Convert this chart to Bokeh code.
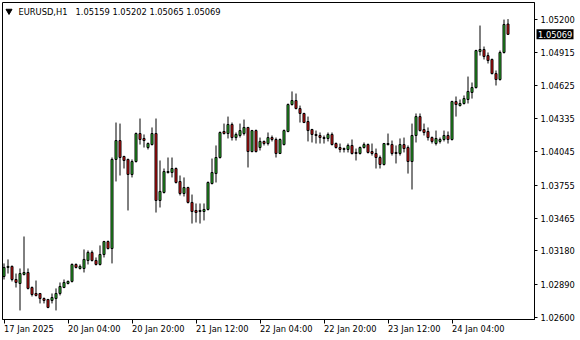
from bokeh.plotting import figure
from bokeh.models import (Range1d, FixedTicker, PrintfTickFormatter, LinearAxis,
                          Label, ColumnDataSource)
from bokeh.core.properties import value
from bokeh.embed import file_html
from bokeh.resources import INLINE

symbol = "EURUSD,H1"

opens = [1.02957, 1.03036, 1.03045, 1.02931, 1.02896, 1.02975, 1.02992, 1.02861, 1.02809, 1.02809,
         1.02765, 1.02757, 1.02748, 1.02765, 1.02809, 1.02861, 1.02896, 1.02914, 1.03062, 1.03027,
         1.03027, 1.03097, 1.03167, 1.03097, 1.03062, 1.03149, 1.03262, 1.03201, 1.03978, 1.04143,
         1.04004, 1.03978, 1.03847, 1.03960, 1.04204, 1.04161, 1.04082, 1.04108, 1.04204, 1.03620,
         1.03690, 1.03864, 1.03864, 1.03899, 1.03786, 1.03681, 1.03733, 1.03603, 1.03533, 1.03524,
         1.03524, 1.03542, 1.03768, 1.03855, 1.03995, 1.04222, 1.04204, 1.04283, 1.04169, 1.04187,
         1.04204, 1.04257, 1.04047, 1.04230, 1.04082, 1.04135, 1.04117, 1.04169, 1.04152, 1.04030,
         1.04108, 1.04222, 1.04457, 1.04492, 1.04422, 1.04379, 1.04309, 1.04239, 1.04196, 1.04187,
         1.04169, 1.04161, 1.04196, 1.04117, 1.04082, 1.04065, 1.04065, 1.04100, 1.04039, 1.04030,
         1.04082, 1.04108, 1.04047, 1.04030, 1.03995, 1.03934, 1.04108, 1.04108, 1.04039, 1.04030,
         1.04108, 1.04082, 1.03960, 1.04187, 1.04352, 1.04239, 1.04222, 1.04169, 1.04117, 1.04135,
         1.04152, 1.04187, 1.04152, 1.04483, 1.04448, 1.04466, 1.04501, 1.04562, 1.04605, 1.04919,
         1.04937, 1.04884, 1.04850, 1.04727, 1.04675, 1.04911, 1.05159]

highs = [1.03071, 1.03106, 1.03053, 1.02983, 1.03027, 1.03306, 1.03027, 1.02870, 1.02922, 1.02809,
         1.02774, 1.02757, 1.02809, 1.02853, 1.02905, 1.02931, 1.02922, 1.03071, 1.03071, 1.03062,
         1.03193, 1.03184, 1.03184, 1.03123, 1.03228, 1.03268, 1.03271, 1.03995, 1.04300, 1.04291,
         1.04010, 1.03985, 1.03978, 1.04213, 1.04335, 1.04196, 1.04126, 1.04257, 1.04335, 1.03969,
         1.03899, 1.03995, 1.03995, 1.03908, 1.03838, 1.03821, 1.03740, 1.03672, 1.03594, 1.03594,
         1.03594, 1.03786, 1.03986, 1.04100, 1.04222, 1.04291, 1.04352, 1.04300, 1.04213, 1.04291,
         1.04326, 1.04262, 1.04236, 1.04239, 1.04169, 1.04143, 1.04213, 1.04187, 1.04169, 1.04161,
         1.04239, 1.04466, 1.04571, 1.04553, 1.04448, 1.04385, 1.04352, 1.04245, 1.04230, 1.04213,
         1.04187, 1.04213, 1.04213, 1.04126, 1.04117, 1.04082, 1.04117, 1.04152, 1.04073, 1.04091,
         1.04126, 1.04117, 1.04117, 1.04073, 1.04012, 1.04122, 1.04204, 1.04143, 1.04100, 1.04161,
         1.04169, 1.04100, 1.04291, 1.04379, 1.04379, 1.04291, 1.04257, 1.04178, 1.04230, 1.04169,
         1.04230, 1.04222, 1.04490, 1.04527, 1.04501, 1.04536, 1.04701, 1.04649, 1.04935, 1.05146,
         1.04963, 1.04911, 1.04858, 1.04754, 1.04928, 1.05198, 1.05202]

lows = [1.02931, 1.02983, 1.02914, 1.02861, 1.02661, 1.02966, 1.02844, 1.02783, 1.02783, 1.02722,
        1.02722, 1.02680, 1.02722, 1.02661, 1.02792, 1.02855, 1.02888, 1.02905, 1.03027, 1.03018,
        1.02992, 1.03062, 1.03088, 1.03053, 1.03053, 1.03123, 1.03193, 1.03071, 1.03786, 1.03838,
        1.03899, 1.03533, 1.03821, 1.03951, 1.04108, 1.04082, 1.04065, 1.04100, 1.03515, 1.03559,
        1.03681, 1.03855, 1.03821, 1.03768, 1.03664, 1.03655, 1.03594, 1.03419, 1.03428, 1.03419,
        1.03446, 1.03533, 1.03760, 1.03777, 1.03986, 1.04196, 1.04161, 1.04143, 1.04143, 1.04169,
        1.04187, 1.03908, 1.04040, 1.04039, 1.04056, 1.04100, 1.04100, 1.04135, 1.03995, 1.04025,
        1.04100, 1.04215, 1.04448, 1.04415, 1.04300, 1.04295, 1.04135, 1.04126, 1.04117, 1.04117,
        1.04117, 1.04135, 1.04100, 1.04073, 1.04039, 1.04039, 1.04039, 1.04021, 1.03969, 1.04021,
        1.04073, 1.04030, 1.04012, 1.03899, 1.03899, 1.03925, 1.04100, 1.04012, 1.03943, 1.04012,
        1.04039, 1.03855, 1.03716, 1.04126, 1.04222, 1.04187, 1.04143, 1.04117, 1.04100, 1.04117,
        1.04135, 1.04117, 1.04143, 1.04352, 1.04440, 1.04457, 1.04466, 1.04509, 1.04597, 1.04884,
        1.04850, 1.04815, 1.04720, 1.04623, 1.04666, 1.04902, 1.05065]

closes = [1.03036, 1.03045, 1.02931, 1.02905, 1.02983, 1.02992, 1.02853, 1.02800, 1.02792, 1.02765,
          1.02748, 1.02687, 1.02774, 1.02809, 1.02870, 1.02905, 1.02914, 1.03062, 1.03036, 1.03045,
          1.03106, 1.03167, 1.03097, 1.03062, 1.03149, 1.03262, 1.03201, 1.03978, 1.04143, 1.03995,
          1.03969, 1.03847, 1.03960, 1.04204, 1.04152, 1.04143, 1.04117, 1.04204, 1.03620, 1.03699,
          1.03873, 1.03873, 1.03899, 1.03777, 1.03681, 1.03733, 1.03603, 1.03524, 1.03515, 1.03533,
          1.03542, 1.03777, 1.03864, 1.03995, 1.04213, 1.04204, 1.04283, 1.04169, 1.04196, 1.04230,
          1.04257, 1.04047, 1.04230, 1.04047, 1.04135, 1.04117, 1.04169, 1.04152, 1.04030, 1.04152,
          1.04230, 1.04457, 1.04492, 1.04422, 1.04379, 1.04300, 1.04230, 1.04196, 1.04187, 1.04169,
          1.04161, 1.04196, 1.04108, 1.04082, 1.04065, 1.04073, 1.04100, 1.04030, 1.04030, 1.04082,
          1.04108, 1.04039, 1.04030, 1.03995, 1.03934, 1.04117, 1.04117, 1.04030, 1.04030, 1.04108,
          1.04073, 1.03960, 1.04187, 1.04352, 1.04230, 1.04213, 1.04169, 1.04135, 1.04161, 1.04152,
          1.04187, 1.04152, 1.04483, 1.04457, 1.04466, 1.04509, 1.04571, 1.04605, 1.04928, 1.04937,
          1.04876, 1.04841, 1.04727, 1.04675, 1.04911, 1.05155, 1.05069]

time_tick_bars = [0, 16, 32, 48, 64, 80, 96, 112]
time_tick_labels = ["17 Jan 2025", "20 Jan 04:00", "20 Jan 20:00", "21 Jan 12:00",
                    "22 Jan 04:00", "22 Jan 20:00", "23 Jan 12:00", "24 Jan 04:00"]

price_ticks = [1.05200, 1.04915, 1.04625, 1.04335, 1.04045, 1.03755,
               1.03465, 1.03180, 1.02890, 1.02600]

# ---- layout helpers ----
FONT = "DejaVu Sans"
FS = "8.3px"
Y_TOP, Y_BOT = 1.05347, 1.02582
FRAME_TOP_PX, FRAME_H_PX = 2, 317
BAR0_PX, BAR_PX = 3.5, 4.0
FRAME_LEFT_PX, FRAME_RIGHT_PX = 2, 534


def px_x(px):
    return (px - BAR0_PX) / BAR_PX


def px_y(py):
    return Y_TOP - (py - FRAME_TOP_PX) * (Y_TOP - Y_BOT) / FRAME_H_PX


X_START, X_END = px_x(FRAME_LEFT_PX), px_x(FRAME_RIGHT_PX)

n = len(opens)
xs = list(range(n))
up = [c >= o for o, c in zip(opens, closes)]
src = ColumnDataSource(dict(
    x=xs, open=opens, high=highs, low=lows, close=closes,
    top=[max(o, c) for o, c in zip(opens, closes)],
    bottom=[min(o, c) for o, c in zip(opens, closes)],
    color=["#30cc30" if u else "#f01515" for u in up],
))

p = figure(width=580, height=340, output_backend="svg", toolbar_location=None,
           x_range=Range1d(X_START, X_END), y_range=Range1d(Y_BOT, Y_TOP),
           x_axis_location=None, y_axis_location=None,
           min_border_left=FRAME_LEFT_PX, min_border_top=FRAME_TOP_PX,
           min_border_right=580 - FRAME_RIGHT_PX, min_border_bottom=21)
p.grid.visible = False
p.outline_line_color = "black"
p.outline_line_width = 1
p.background_fill_color = "white"
p.border_fill_color = "white"

p.segment(x0="x", y0="high", x1="x", y1="low", source=src, line_color="black", line_width=1)
p.vbar(x="x", width=0.5, top="top", bottom="bottom", source=src,
       fill_color="color", line_color="black", line_width=1)

# right price axis
yaxis = LinearAxis(ticker=FixedTicker(ticks=price_ticks),
                   formatter=PrintfTickFormatter(format="%.5f"),
                   major_tick_out=3, major_tick_in=0, minor_tick_out=0, minor_tick_in=0,
                   major_label_standoff=3, axis_line_color="black",
                   major_label_text_font=FONT, major_label_text_font_size=FS,
                   major_label_text_color="black")
p.add_layout(yaxis, "right")

# bottom time axis: ticks from the axis, labels left-aligned at each tick (MT4 style)
xaxis = LinearAxis(ticker=FixedTicker(ticks=time_tick_bars),
                   major_label_overrides={b: "" for b in time_tick_bars},
                   major_tick_out=4, major_tick_in=0, minor_tick_out=0, minor_tick_in=0,
                   major_label_standoff=0, axis_line_color="black",
                   major_label_text_font_size="1px")
p.add_layout(xaxis, "below")

p.text(x=time_tick_bars, y=[px_y(328)] * len(time_tick_bars), text=time_tick_labels,
       text_align="left", text_baseline="middle", text_font=value(FONT),
       text_font_size=value(FS), text_color="black", level="overlay")

# current price tag on the price scale
p.rect(x=[px_x(554.5)], y=[closes[-1]], width=37, height=10,
       width_units="screen", height_units="screen",
       fill_color="black", line_color=None, level="overlay")
p.text(x=[px_x(537.5)], y=[closes[-1]], text=["%.5f" % closes[-1]],
       text_align="left", text_baseline="middle", text_font=value(FONT),
       text_font_size=value(FS), text_color="white", level="overlay")

# header
p.scatter(x=[px_x(8.5)], y=[px_y(10.5)], marker="inverted_triangle", size=6,
          fill_color="black", line_color="black")
p.add_layout(Label(x=px_x(18), y=px_y(11), text=symbol, text_color="black",
                   text_font=FONT, text_font_size=FS, text_baseline="middle",
                   text_align="left"))
p.add_layout(Label(x=px_x(75), y=px_y(11),
                   text="%.5f %.5f %.5f %.5f" % (opens[-1], highs[-1], lows[-1], closes[-1]),
                   text_color="black", text_font=FONT, text_font_size=FS,
                   text_baseline="middle", text_align="left"))

open("out.html", "w").write(file_html(p, INLINE))
